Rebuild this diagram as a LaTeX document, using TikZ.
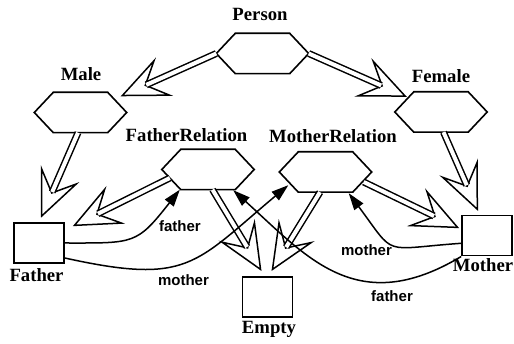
\documentclass[tikz,border=0pt]{standalone}
\usepackage{fontspec}
\setmainfont{Liberation Serif}
\setsansfont{Liberation Sans}
\usetikzlibrary{arrows.meta,calc}
\begin{document}
\begin{tikzpicture}[x=1pt,y=-1pt,
  title/.style={font=\fontsize{18.7}{20}\selectfont\bfseries, inner sep=0pt, anchor=base},
  role/.style={font=\sffamily\fontsize{15}{17}\selectfont\bfseries, inner sep=0pt, anchor=base},
  hexa/.style={rectangle, minimum width=92pt, minimum height=40pt, inner sep=0pt},
  box/.style={rectangle, draw, line width=1.6pt, minimum width=50pt, minimum height=40pt, inner sep=0pt},
  outline/.style={line width=1.6pt, line join=miter},
  inh/.style={line width=1.5pt, line join=miter,
    -{Stealth[open, length=48pt, width=42pt, inset=20pt]},
    postaction={draw, -, double=white, double distance=4pt, shorten >=28pt}},
  assoc/.style={line width=1.5pt, -{Triangle[length=17pt, width=11pt]}}]
\useasboundingbox (0,0) rectangle (514,344);

% classes
\node[hexa] (person) at (262.5,53.5) {};
\node[hexa] (male) at (80.5,112.5) {};
\node[hexa] (female) at (441,112) {};
\node[hexa] (frel) at (208,169.5) {};
\node[hexa] (mrel) at (325.5,172) {};
\node[box] (father) at (39,243) {};
\node[box] (mother) at (487,235.7) {};
\node[box] (empty) at (267.5,297.3) {};

\foreach \n in {person,male,female,frel,mrel}
  \draw[outline] (\n.west) -- ([xshift=19pt]\n.north west) -- ([xshift=-19pt]\n.north east)
    -- (\n.east) -- ([xshift=-19pt]\n.south east) -- ([xshift=19pt]\n.south west) -- cycle;

% class names
\node[title] (personname) at (260,20.5) {Person};
\node[title] (malename) at (81,81) {Male};
\node[title] (femalename) at (441,83) {Female};
\node[title] (frelname) at (186.5,142) {FatherRelation};
\node[title] (mrelname) at (333,143) {MotherRelation};
\node[title] (fathername) at (36.5,282) {Father};
\node[title] (mothername) at (483,272) {Mother};
\node[title] (emptyname) at (269,334) {Empty};

% generalisations
\draw[inh] (person.west) -- ([shift={(-6,4)}]male.north east);
\draw[inh] (person.east) -- ([shift={(12,5)}]female.north west);
\draw[inh] ([xshift=-2.5pt]male.south) -- ([shift={(2,-4.5)}]father.north);
\draw[inh] ([xshift=2.5pt]female.south) -- ([shift={(-9,-4)}]mother.north);
\draw[inh] ([shift={(8,8.5)}]frel.west) -- ([shift={(8,4)}]father.north east);
\draw[inh] ([xshift=4.5pt]frel.south) -- ([shift={(-6,-5.5)}]empty.north);
\draw[inh] ([xshift=-5.5pt]mrel.south) -- ([shift={(4,-5.5)}]empty.north);
\draw[inh] ([shift={(-8,10)}]mrel.east) -- ([shift={(-2,-7.5)}]mother.west);

% associations
\draw[assoc] (father.east) .. controls ($(father.east)+(70,0)$) and ($(frel.south west)+(-25.4,55.1)$)
  .. ([xshift=18pt]frel.south west);
\draw[assoc] ([yshift=-15pt]father.east) .. controls ($(father.east)+(123.7,42.3)$) and ($(mrel.south west)+(-84.9,71.6)$)
  .. ([shift={(9,-7)}]mrel.south west);
\draw[assoc] ([yshift=-7.6pt]mother.west) .. controls ($(mother.west)+(-80.6,13.3)$) and ($(mrel.south east)+(25,65.6)$)
  .. ([shift={(-23,1)}]mrel.south east);
\draw[assoc] (mother.south west) .. controls ($(mother.south west)+(-104,62.3)$) and ($(frel.south east)+(53,67.5)$)
  .. ([shift={(-21,0.5)}]frel.south east);

% role names
\node[role] (rolefa) at (180,232) {father};
\node[role] (rolema) at (183.5,286) {mother};
\node[role] (rolemb) at (366.5,256) {mother};
\node[role] (rolefb) at (392,302) {father};
\end{tikzpicture}
\end{document}
